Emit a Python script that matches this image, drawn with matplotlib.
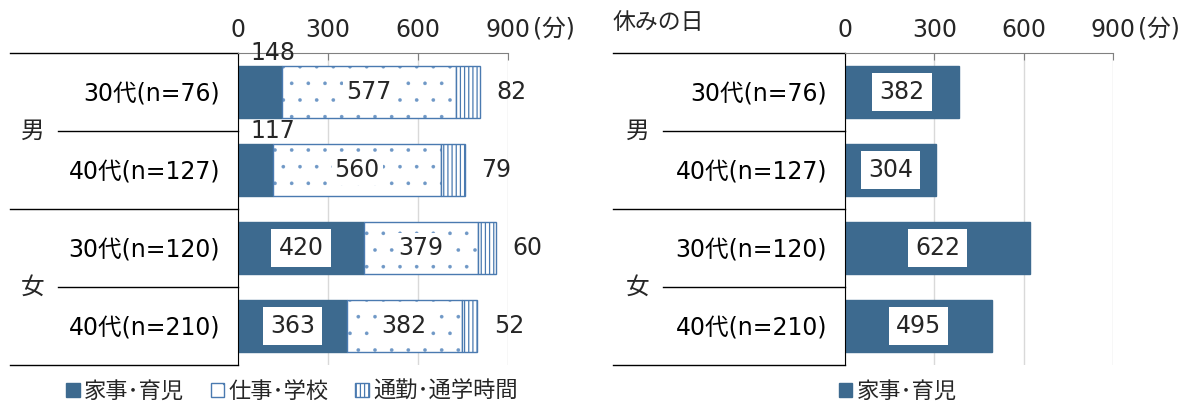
import matplotlib.pyplot as plt
import matplotlib.transforms as mtransforms
from matplotlib.patches import Patch

plt.rcParams['font.family'] = ['DejaVu Sans', 'Noto Sans CJK JP']
plt.rcParams['text.color'] = '#262626'

# データ (分)
groups = ['男', '女']
ages = ['30代(n=76)', '40代(n=127)', '30代(n=120)', '40代(n=210)']
housework = [148, 117, 420, 363]
work = [577, 560, 379, 382]
commute = [82, 79, 60, 52]
holiday_housework = [382, 304, 622, 495]
xticks = [0, 300, 600, 900]

navy = '#3d6a8f'
blue = '#4a7ab0'
dots = '#6f98c6'
fs = 17

fig = plt.figure(figsize=(11.85, 4.03), dpi=100)
ax1 = fig.add_axes([238 / 1185, 38 / 403, 270 / 1185, 312 / 403])
ax2 = fig.add_axes([845 / 1185, 38 / 403, 268 / 1185, 312 / 403])


def setup(ax, line_x, mid_x, group_x):
    ax.set_xlim(0, 900)
    ax.set_ylim(3.5, -0.5)
    ax.xaxis.tick_top()
    ax.set_xticks(xticks)
    ax.tick_params(axis='x', direction='in', length=5, pad=8, labelsize=fs,
                   colors='#262626', color='#808080')
    ax.set_yticks(range(len(ages)))
    ax.set_yticklabels(ages, fontsize=fs)
    ax.tick_params(axis='y', length=0, pad=13)
    ax.grid(axis='x', color='#d9d9d9', lw=1)
    ax.set_axisbelow(True)
    ax.spines['right'].set_visible(False)
    ax.spines['bottom'].set_visible(False)
    ax.spines['top'].set_color('#808080')
    ax.spines['left'].set_color('black')
    trans = mtransforms.blended_transform_factory(ax.transAxes, ax.transData)
    for y in [-0.5, 1.5, 3.5]:
        ax.plot([line_x, 0], [y, y], transform=trans, color='black', lw=1, clip_on=False)
    for i, g in enumerate(groups):
        y = 2 * i + 0.5
        ax.plot([mid_x, 0], [y, y], transform=trans, color='black', lw=1, clip_on=False)
        ax.text(group_x, y, g, transform=trans, ha='center', va='center', fontsize=fs)
    ax.annotate('(分)', xy=(900, 1), xycoords=('data', 'axes fraction'),
                xytext=(18, 8), textcoords='offset points', ha='left', va='bottom', fontsize=fs)


setup(ax1, -0.844, -0.667, -0.759)
setup(ax2, -0.866, -0.679, -0.772)
ax2.text(-0.866, 1.062, '休みの日', transform=ax2.transAxes, ha='left', va='bottom', fontsize=16.5)

y = range(len(ages))
h = 0.67
box = dict(boxstyle='square,pad=0.3', fc='white', ec='none')
box2 = dict(boxstyle='square,pad=0.12', fc='white', ec='none')

# 平日
left2 = [a + b for a, b in zip(housework, work)]
ax1.barh(y, housework, h, color=navy, edgecolor=navy)
plt.rcParams['hatch.linewidth'] = 0.2
ax1.barh(y, work, h, left=housework, color='white', edgecolor=dots, hatch='.', lw=0)
p_work = Patch(fc='white', ec=blue, hatch='.', label='仕事･学校')
ax1.barh(y, work, h, left=housework, fill=False, edgecolor=blue, lw=1)
plt.rcParams['hatch.linewidth'] = 0.9
ax1.barh(y, commute, h, left=left2, color='white', edgecolor=blue, hatch='||||', lw=1)
p_comm = Patch(fc='white', ec=blue, hatch='||||', label='通勤･通学時間')

for i in range(len(ages)):
    if i < 2:
        ax1.text(40, i - 0.5, str(housework[i]), ha='left', va='center', fontsize=fs)
    else:
        ax1.text(housework[i] / 2, i, str(housework[i]), ha='center', va='center',
                 fontsize=fs, bbox=box)
    ax1.text(housework[i] + work[i] / 2, i, str(work[i]), ha='center', va='center',
             fontsize=fs, bbox=box2)
    ax1.annotate(str(commute[i]), (left2[i] + commute[i], i), xytext=(12, 0),
                 textcoords='offset points', ha='left', va='center', fontsize=fs)

# 休みの日
ax2.barh(y, holiday_housework, h, color=navy, edgecolor=navy)
for i in range(len(ages)):
    ax2.text(holiday_housework[i] / 2, i, str(holiday_housework[i]), ha='center',
             va='center', fontsize=fs, bbox=box)

p_house = Patch(fc=navy, ec=navy, label='家事･育児')
fig.legend(handles=[p_house, p_work, p_comm], loc='center',
           bbox_to_anchor=(292 / 1185, 1 - 391 / 403), ncol=3,
           frameon=False, fontsize=16, handlelength=0.6, handleheight=0.6,
           handletextpad=0.2, columnspacing=1.2)
fig.legend(handles=[p_house], loc='center', bbox_to_anchor=(898 / 1185, 1 - 391 / 403),
           frameon=False, fontsize=16, handlelength=0.6, handleheight=0.6,
           handletextpad=0.2)

fig.savefig('out.png', dpi=100)
